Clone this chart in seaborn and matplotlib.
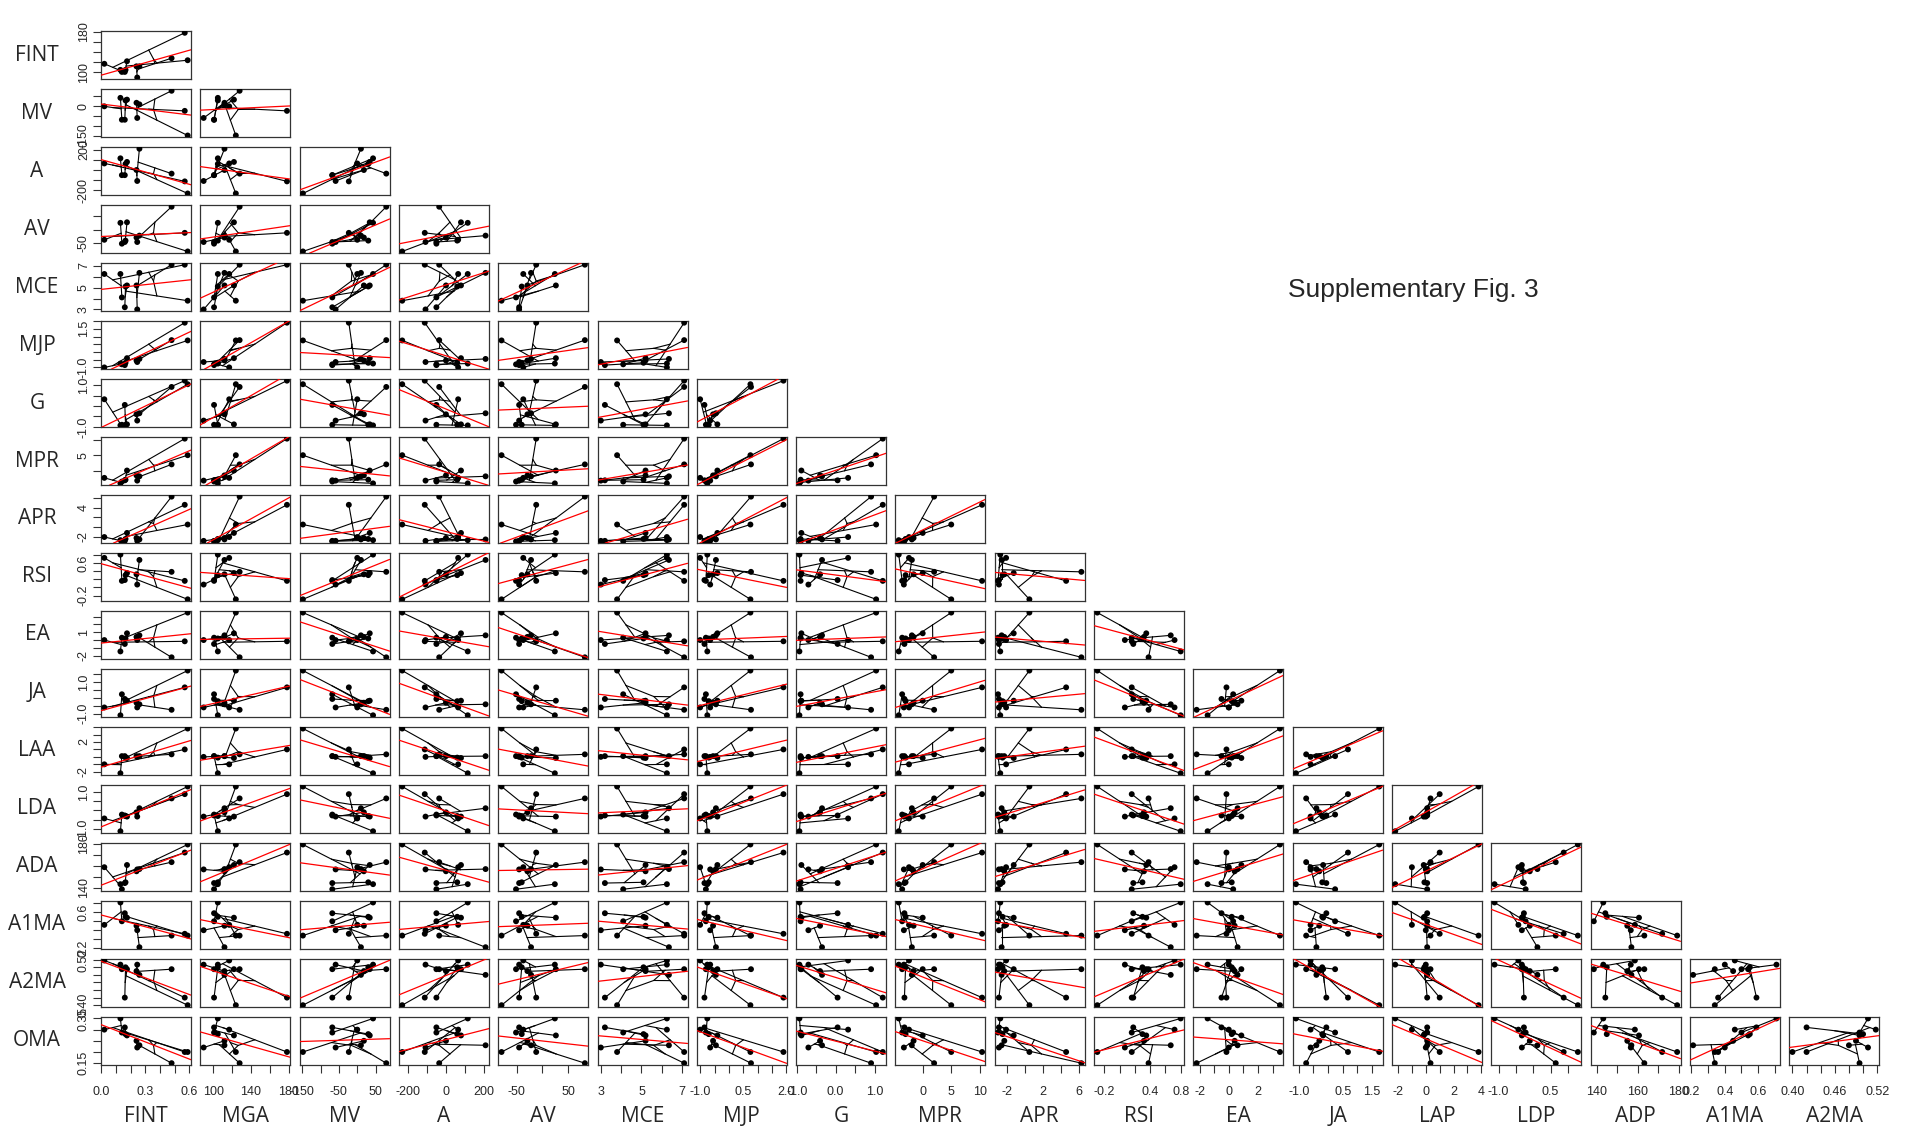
import numpy as np
import matplotlib
matplotlib.use("Agg")
import matplotlib.pyplot as plt
import seaborn as sns

FINT = [0.02, 0.13, 0.14, 0.16, 0.165, 0.175, 0.24, 0.245, 0.26, 0.48, 0.57, 0.59]
MGA = [117, 105, 101, 101, 105, 122, 112, 90, 112, 128, 178, 124]
MV = [0, 43, -68, -68, 30, 34, 18, -59, 10, 79, -23, -148]
A = [65, 116, -51, -51, 60, 80, 0, -109, 211, -36, -113, -233]
AV = [-37, 24, -51, -45, -40, 26, -29, -45, -22, 82, -12, -79]
MCE = [6.25, 6.25, 4.1, 3.2, 5.1, 5.2, 5.2, 3.0, 6.35, 7.1, 7.1, 3.8]
MJP = [-1.0, -0.75, -0.8, -0.85, -0.7, -0.4, -0.55, -0.65, -0.45, 0.77, 1.9, 0.75]
G = [0.32, -0.93, -0.9, 0.05, -0.9, -0.88, -0.4, -0.7, -0.35, 0.91, 1.21, 1.04]
MPR = [-2.4, -4.2, -3.6, -3.2, -3.0, 0.0, -1.6, -3.3, -1.9, 2.0, 10.4, 5.0]
APR = [-2.1, -2.75, -3.0, -2.9, -2.5, -1.25, -2.3, -2.9, -2.6, 6.3, 4.6, 0.5]
RSI = [0.72, 0.80, 0.16, 0.18, 0.30, 0.35, 0.32, 0.07, 0.67, 0.38, 0.16, -0.29]
EA = [0.0, -1.45, 0.3, -0.5, 0.2, 0.86, 0.4, 0.0, 0.6, -2.2, -0.16, 3.5]
JA = [-0.6, -1.1, 0.24, -0.06, -0.2, -0.17, -0.3, -0.6, -0.4, -0.75, 0.68, 1.75]
LAA = [-1.0, -2.2, 0.1, 0.1, -0.1, -0.15, 0.1, 0.0, 0.1, 0.34, 1.0, 3.8]
LDA = [-0.43, -1.12, -0.22, -0.27, -0.3, -0.33, -0.1, -0.33, 0.12, 0.65, 0.88, 1.29]
ADA = [158.7, 143.3, 138.7, 144.3, 145, 160.7, 155, 156.7, 157, 163.3, 172, 179.3]
A1MA = [0.46, 0.71, 0.50, 0.59, 0.55, 0.54, 0.45, 0.40, 0.21, 0.34, 0.36, 0.34]
A2MA = [0.518, 0.507, 0.495, 0.42, 0.50, 0.495, 0.49, 0.507, 0.48, 0.495, 0.42, 0.40]
OMA = [0.30, 0.35, 0.287, 0.31, 0.28, 0.274, 0.25, 0.22, 0.23, 0.15, 0.20, 0.20]

# tree topology linking the tips (indices into the arrays above)
TREE = ((10, (0, (1, 2))), (11, ((3, 4), 5)), (9, ((6, 7), 8)))

row_labels = ["FINT", "MV", "A", "AV", "MCE", "MJP", "G", "MPR", "APR", "RSI",
              "EA", "JA", "LAA", "LDA", "ADA", "A1MA", "A2MA", "OMA"]
col_labels = ["FINT", "MGA", "MV", "A", "AV", "MCE", "MJP", "G", "MPR", "APR",
              "RSI", "EA", "JA", "LAP", "LDP", "ADP", "A1MA", "A2MA"]

y_data = [MGA, MV, A, AV, MCE, MJP, G, MPR, APR, RSI, EA, JA, LAA, LDA, ADA, A1MA, A2MA, OMA]
x_data = [FINT, MGA, MV, A, AV, MCE, MJP, G, MPR, APR, RSI, EA, JA, LAA, LDA, ADA, A1MA, A2MA]

# axis ticks per variable: (ticks, labels shown on x, labels shown on y)
fint_ticks = ([0.0, 0.1, 0.2, 0.3, 0.4, 0.5, 0.6], ["0.0", "0.3", "0.6"], [])
mga_ticks = ([100, 120, 140, 160, 180], ["100", "140", "180"], ["100", "180"])
mv_ticks = ([-150, -100, -50, 0, 50], ["-150", "-50", "50"], ["-150", "0"])
a_ticks = ([-200, -100, 0, 100, 200], ["-200", "0", "200"], ["-200", "200"])
av_ticks = ([-50, 0, 50], ["-50", "50"], ["-50"])
mce_ticks = ([3, 4, 5, 6, 7], ["3", "5", "7"], ["3", "5", "7"])
mjp_ticks = ([-1.0, -0.5, 0.0, 0.5, 1.0, 1.5, 2.0], ["-1.0", "0.5", "2.0"], ["-1.0", "1.5"])
g_ticks = ([-1.0, -0.5, 0.0, 0.5, 1.0], ["-1.0", "0.0", "1.0"], ["-1.0", "1.0"])
mpr_ticks = ([-5, 0, 5, 10], ["-5", "0", "5", "10"], ["-5", "5"])
apr_ticks = ([-2, 0, 2, 4, 6], ["-2", "2", "6"], ["-2", "4"])
rsi_ticks = ([-0.2, 0.0, 0.2, 0.4, 0.6, 0.8], ["-0.2", "0.4", "0.8"], ["-0.2", "0.6"])
ea_ticks = ([-2, -1, 0, 1, 2, 3], ["-2", "0", "2"], ["-2", "1"])
ja_ticks = ([-1.0, -0.5, 0.0, 0.5, 1.0, 1.5], ["-1.0", "0.5", "1.5"], ["-1.0", "1.0"])
laa_ticks = ([-2, -1, 0, 1, 2, 3, 4], ["-2", "0", "2", "4"], ["-2", "2"])
lda_ticks = ([-1.0, -0.5, 0.0, 0.5, 1.0, 1.5], ["-1.0", "0.5", "1.5"], ["-1.0", "1.0"])
ada_ticks = ([140, 150, 160, 170, 180], ["140", "160", "180"], ["140", "180"])
a1ma_ticks = ([0.2, 0.3, 0.4, 0.5, 0.6, 0.7], ["0.2", "0.4", "0.6"], ["0.2", "0.6"])
a2ma_ticks = ([0.40, 0.42, 0.44, 0.46, 0.48, 0.50, 0.52], ["0.40", "0.46", "0.52"], ["0.40", "0.52"])
oma_ticks = ([0.15, 0.20, 0.25, 0.30, 0.35], [], ["0.15", "0.35"])

y_ticks = [mga_ticks, mv_ticks, a_ticks, av_ticks, mce_ticks, mjp_ticks, g_ticks, mpr_ticks,
           apr_ticks, rsi_ticks, ea_ticks, ja_ticks, laa_ticks, lda_ticks, ada_ticks,
           a1ma_ticks, a2ma_ticks, oma_ticks]
x_ticks = [fint_ticks, mga_ticks, mv_ticks, a_ticks, av_ticks, mce_ticks, mjp_ticks, g_ticks,
           mpr_ticks, apr_ticks, rsi_ticks, ea_ticks, ja_ticks, laa_ticks, lda_ticks,
           ada_ticks, a1ma_ticks, a2ma_ticks]


def padded(v):
    lo, hi = min(v), max(v)
    d = (hi - lo) * 0.04
    return lo - d, hi + d


def walk(node, xs, ys, segs):
    """Return position of a tree node, collecting branch segments."""
    if isinstance(node, int):
        return xs[node], ys[node]
    kids = [walk(k, xs, ys, segs) for k in node]
    px = np.mean([k[0] for k in kids])
    py = np.mean([k[1] for k in kids])
    for kx, ky in kids:
        segs.append(((px, kx), (py, ky)))
    return px, py


def set_axis(axis, ticks, shown, lim):
    vals = [t for t in ticks if lim[0] <= t <= lim[1]]
    labels = []
    for t in vals:
        txt = [s for s in shown if abs(float(s) - t) < 1e-9]
        labels.append(txt[0] if txt else "")
    axis.set_ticks(vals)
    axis.set_ticklabels(labels)


sns.set_style("white")
plt.rcParams['font.family'] = ['Liberation Sans', 'DejaVu Sans']

W_PX, H_PX = 1910, 1131
L0, DX, PW = 101, 99.3, 90
T0, DY, PH = 31, 57.98, 48.3

fig = plt.figure(figsize=(W_PX / 100, H_PX / 100), dpi=100)

n = len(y_data)
for r in range(n):
    yv = y_data[r]
    ylim = padded(yv)
    for c in range(r + 1):
        xv = x_data[c]
        xlim = padded(xv)
        ax = fig.add_axes([(L0 + c * DX) / W_PX, 1 - (T0 + r * DY + PH) / H_PX,
                           PW / W_PX, PH / H_PX])
        ax.set_xlim(xlim)
        ax.set_ylim(ylim)

        segs = []
        walk(TREE, xv, yv, segs)
        for sx, sy in segs:
            ax.plot(sx, sy, color="black", lw=0.8, zorder=2)
        sns.scatterplot(x=xv, y=yv, ax=ax, color="black", s=18, edgecolor="none",
                        linewidth=0, zorder=3)

        slope, icpt = np.polyfit(xv, yv, 1)
        ax.axline((0, icpt), slope=slope, color="red", lw=0.9, zorder=4)

        for sp in ax.spines.values():
            sp.set_visible(True)
            sp.set_color("#333333")
            sp.set_linewidth(0.9)

        ax.tick_params(direction="out", length=6, width=0.8, color="#333333",
                       labelsize=9, pad=2)
        if c == 0:
            set_axis(ax.yaxis, y_ticks[r][0], y_ticks[r][2], ylim)
            ax.tick_params(axis="y", left=True, labelrotation=90)
            for lab in ax.get_yticklabels():
                lab.set_va("center")
        else:
            ax.set_yticks([])
        if r == n - 1:
            set_axis(ax.xaxis, x_ticks[c][0], x_ticks[c][1], xlim)
            ax.tick_params(axis="x", bottom=True, pad=9)
        else:
            ax.set_xticks([])
        ax.set_xlabel("")
        ax.set_ylabel("")

    fig.text(37 / W_PX, 1 - (T0 + r * DY + PH / 2) / H_PX, row_labels[r],
             ha="center", va="center", fontsize=15, family="Open Sans")

for c in range(n):
    fig.text((L0 + c * DX + PW / 2) / W_PX, 1 - 1116 / H_PX, col_labels[c],
             ha="center", va="center", fontsize=15, family="Open Sans")

fig.text(1288 / W_PX, 1 - 290 / H_PX, "Supplementary Fig. 3", ha="left", va="center",
         fontsize=19)

fig.savefig("out.png", dpi=100)
